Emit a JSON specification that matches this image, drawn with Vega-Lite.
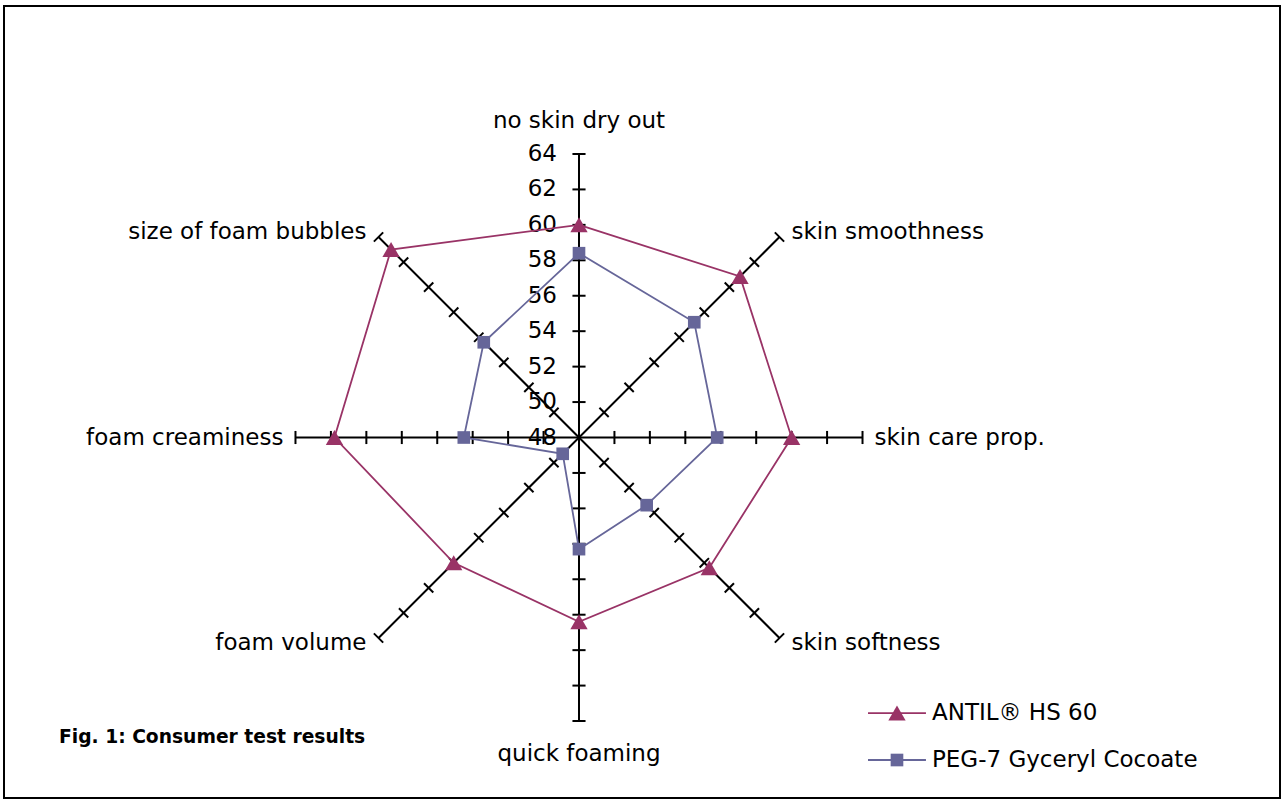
{
  "$schema": "https://vega.github.io/schema/vega-lite/v6.json",
  "width": 1276,
  "height": 792,
  "autosize": {"type": "none"},
  "padding": {"left": 4, "top": 6, "right": 2, "bottom": 1},
  "background": "white",
  "config": {
    "view": {"stroke": "black", "strokeWidth": 2},
    "font": "DejaVu Sans",
    "text": {"font": "DejaVu Sans", "fontSize": 23, "color": "black"}
  },
  "title": {
    "text": "Fig. 1: Consumer test results",
    "orient": "top",
    "anchor": "start",
    "frame": "group",
    "offset": 0,
    "dx": 55,
    "dy": 755.7,
    "baseline": "alphabetic",
    "font": "DejaVu Sans",
    "fontSize": 18.7,
    "fontWeight": "bold",
    "color": "black"
  },
  "datasets": {
    "axes": [
      {"attribute": "no skin dry out", "order": 0, "ticks": [50, 52, 54, 56, 58, 60, 62, 64]},
      {"attribute": "skin smoothness", "order": 1, "ticks": [50, 52, 54, 56, 58, 60, 62, 64]},
      {"attribute": "skin care prop.", "order": 2, "ticks": [50, 52, 54, 56, 58, 60, 62, 64]},
      {"attribute": "skin softness", "order": 3, "ticks": [50, 52, 54, 56, 58, 60, 62, 64]},
      {"attribute": "quick foaming", "order": 4, "ticks": [50, 52, 54, 56, 58, 60, 62, 64]},
      {"attribute": "foam volume", "order": 5, "ticks": [50, 52, 54, 56, 58, 60, 62, 64]},
      {"attribute": "foam creaminess", "order": 6, "ticks": [50, 52, 54, 56, 58, 60, 62, 64]},
      {"attribute": "size of foam bubbles", "order": 7, "ticks": [50, 52, 54, 56, 58, 60, 62, 64]}
    ],
    "scale": [
      {"v": 48}, {"v": 50}, {"v": 52}, {"v": 54}, {"v": 56}, {"v": 58}, {"v": 60}, {"v": 62}, {"v": 64}
    ],
    "scores": [
      {"attribute": "no skin dry out", "series": "ANTIL® HS 60", "value": 60.0},
      {"attribute": "skin smoothness", "series": "ANTIL® HS 60", "value": 60.85},
      {"attribute": "skin care prop.", "series": "ANTIL® HS 60", "value": 60.0},
      {"attribute": "skin softness", "series": "ANTIL® HS 60", "value": 58.4},
      {"attribute": "quick foaming", "series": "ANTIL® HS 60", "value": 58.4},
      {"attribute": "foam volume", "series": "ANTIL® HS 60", "value": 58.0},
      {"attribute": "foam creaminess", "series": "ANTIL® HS 60", "value": 61.8},
      {"attribute": "size of foam bubbles", "series": "ANTIL® HS 60", "value": 63.0},
      {"attribute": "no skin dry out", "series": "PEG-7 Gyceryl Cocoate", "value": 58.4},
      {"attribute": "skin smoothness", "series": "PEG-7 Gyceryl Cocoate", "value": 57.2},
      {"attribute": "skin care prop.", "series": "PEG-7 Gyceryl Cocoate", "value": 55.8},
      {"attribute": "skin softness", "series": "PEG-7 Gyceryl Cocoate", "value": 53.4},
      {"attribute": "quick foaming", "series": "PEG-7 Gyceryl Cocoate", "value": 54.3},
      {"attribute": "foam volume", "series": "PEG-7 Gyceryl Cocoate", "value": 49.3},
      {"attribute": "foam creaminess", "series": "PEG-7 Gyceryl Cocoate", "value": 54.5},
      {"attribute": "size of foam bubbles", "series": "PEG-7 Gyceryl Cocoate", "value": 55.6}
    ]
  },
  "encoding": {
    "x": {"field": "px", "type": "quantitative", "scale": {"domain": [-32.449, 39.56], "nice": false, "zero": false}, "axis": null},
    "y": {"field": "py", "type": "quantitative", "scale": {"domain": [-20.344, 24.351], "nice": false, "zero": false}, "axis": null}
  },
  "layer": [
    {
      "data": {"name": "axes"},
      "transform": [
        {"calculate": "PI/2 - datum.order*PI/4", "as": "a"},
        {"calculate": "0", "as": "px"},
        {"calculate": "0", "as": "py"},
        {"calculate": "16*cos(datum.a)", "as": "ex"},
        {"calculate": "16*sin(datum.a)", "as": "ey"}
      ],
      "mark": {"type": "rule", "stroke": "black", "strokeWidth": 2},
      "encoding": {"x2": {"field": "ex"}, "y2": {"field": "ey"}}
    },
    {
      "data": {"name": "axes"},
      "transform": [
        {"flatten": ["ticks"], "as": ["tick"]},
        {"calculate": "PI/2 - datum.order*PI/4", "as": "a"},
        {"calculate": "datum.tick - 48", "as": "u"},
        {"calculate": "datum.u*cos(datum.a) + 0.37*sin(datum.a)", "as": "px"},
        {"calculate": "datum.u*sin(datum.a) - 0.37*cos(datum.a)", "as": "py"},
        {"calculate": "datum.u*cos(datum.a) - 0.37*sin(datum.a)", "as": "ex"},
        {"calculate": "datum.u*sin(datum.a) + 0.37*cos(datum.a)", "as": "ey"}
      ],
      "mark": {"type": "rule", "stroke": "black", "strokeWidth": 2},
      "encoding": {"x2": {"field": "ex"}, "y2": {"field": "ey"}}
    },
    {
      "data": {"name": "scale"},
      "transform": [
        {"calculate": "0", "as": "px"},
        {"calculate": "datum.v - 48", "as": "py"}
      ],
      "mark": {"type": "text", "align": "right", "baseline": "middle", "dx": -22, "fontSize": 23},
      "encoding": {"text": {"field": "v", "type": "quantitative"}}
    },
    {
      "data": {"name": "scores"},
      "transform": [
        {"lookup": "attribute", "from": {"data": {"name": "axes"}, "key": "attribute", "fields": ["order"]}},
        {"calculate": "PI/2 - datum.order*PI/4", "as": "a"},
        {"calculate": "(datum.value-48)*cos(datum.a)", "as": "px"},
        {"calculate": "(datum.value-48)*sin(datum.a)", "as": "py"}
      ],
      "mark": {"type": "line", "interpolate": "linear-closed", "strokeWidth": 1.8},
      "encoding": {
        "stroke": {"field": "series", "type": "nominal", "scale": {"domain": ["ANTIL® HS 60", "PEG-7 Gyceryl Cocoate"], "range": ["#993366", "#666699"]}, "legend": null},
        "order": {"field": "order", "type": "quantitative"}
      }
    },
    {
      "data": {"name": "scores"},
      "transform": [
        {"lookup": "attribute", "from": {"data": {"name": "axes"}, "key": "attribute", "fields": ["order"]}},
        {"calculate": "PI/2 - datum.order*PI/4", "as": "a"},
        {"calculate": "(datum.value-48)*cos(datum.a)", "as": "px"},
        {"calculate": "(datum.value-48)*sin(datum.a)", "as": "py"}
      ],
      "mark": {"type": "point", "filled": true, "opacity": 1},
      "encoding": {
        "fill": {"field": "series", "type": "nominal", "scale": {"domain": ["ANTIL® HS 60", "PEG-7 Gyceryl Cocoate"], "range": ["#993366", "#666699"]}, "legend": null},
        "shape": {"field": "series", "type": "nominal", "scale": {"domain": ["ANTIL® HS 60", "PEG-7 Gyceryl Cocoate"], "range": ["triangle-up", "square"]}, "legend": null},
        "size": {"field": "series", "type": "nominal", "scale": {"domain": ["ANTIL® HS 60", "PEG-7 Gyceryl Cocoate"], "range": [300, 160]}, "legend": null}
      }
    },
    {
      "data": {"name": "axes"},
      "transform": [
        {"filter": "datum.order >= 1 && datum.order <= 3"},
        {"calculate": "PI/2 - datum.order*PI/4", "as": "a"},
        {"calculate": "16*cos(datum.a) + 0.68", "as": "px"},
        {"calculate": "16.4*sin(datum.a)", "as": "py"}
      ],
      "mark": {"type": "text", "align": "left", "baseline": "middle", "fontSize": 23},
      "encoding": {"text": {"field": "attribute"}}
    },
    {
      "data": {"name": "axes"},
      "transform": [
        {"filter": "datum.order >= 5"},
        {"calculate": "PI/2 - datum.order*PI/4", "as": "a"},
        {"calculate": "16*cos(datum.a) - 0.68", "as": "px"},
        {"calculate": "16.4*sin(datum.a)", "as": "py"}
      ],
      "mark": {"type": "text", "align": "right", "baseline": "middle", "fontSize": 23},
      "encoding": {"text": {"field": "attribute"}}
    },
    {
      "data": {"name": "axes"},
      "transform": [
        {"filter": "datum.order === 0 || datum.order === 4"},
        {"calculate": "PI/2 - datum.order*PI/4", "as": "a"},
        {"calculate": "0", "as": "px"},
        {"calculate": "17.85*sin(datum.a)", "as": "py"}
      ],
      "mark": {"type": "text", "align": "center", "baseline": "middle", "fontSize": 23},
      "encoding": {"text": {"field": "attribute"}}
    },
    {
      "data": {"name": "scores"},
      "transform": [
        {"aggregate": [{"op": "count", "as": "n"}], "groupby": ["series"]},
        {"window": [{"op": "row_number", "as": "rank"}], "sort": [{"field": "series", "order": "ascending"}]},
        {"calculate": "16.31", "as": "px"},
        {"calculate": "19.58", "as": "ex"},
        {"calculate": "-15.55 - (datum.rank-1)*2.65", "as": "py"}
      ],
      "layer": [
        {
          "mark": {"type": "rule", "strokeWidth": 1.8},
          "encoding": {
            "x2": {"field": "ex"},
            "stroke": {"field": "series", "type": "nominal", "scale": {"domain": ["ANTIL® HS 60", "PEG-7 Gyceryl Cocoate"], "range": ["#993366", "#666699"]}, "legend": null}
          }
        },
        {
          "transform": [{"calculate": "17.945", "as": "px"}],
          "mark": {"type": "point", "filled": true, "opacity": 1},
          "encoding": {
            "fill": {"field": "series", "type": "nominal", "scale": {"domain": ["ANTIL® HS 60", "PEG-7 Gyceryl Cocoate"], "range": ["#993366", "#666699"]}, "legend": null},
            "shape": {"field": "series", "type": "nominal", "scale": {"domain": ["ANTIL® HS 60", "PEG-7 Gyceryl Cocoate"], "range": ["triangle-up", "square"]}, "legend": null},
            "size": {"field": "series", "type": "nominal", "scale": {"domain": ["ANTIL® HS 60", "PEG-7 Gyceryl Cocoate"], "range": [300, 160]}, "legend": null}
          }
        },
        {
          "transform": [{"calculate": "19.58", "as": "px"}],
          "mark": {"type": "text", "align": "left", "baseline": "middle", "dx": 6, "fontSize": 23},
          "encoding": {"text": {"field": "series"}}
        }
      ]
    }
  ]
}
